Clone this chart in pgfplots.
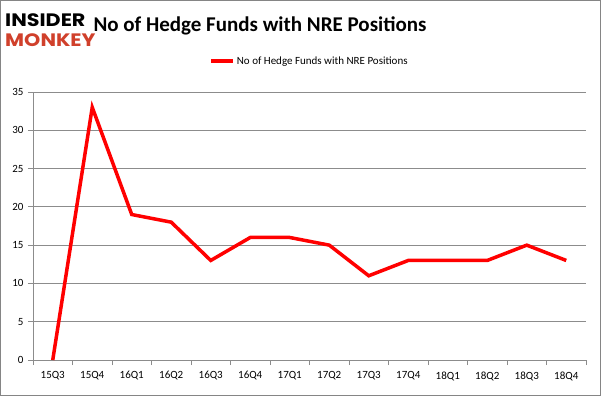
\documentclass[border=0pt]{standalone}
\usepackage{pgfplots}
\pgfplotsset{compat=1.18}
\usepackage{fontspec}
\setmainfont{Carlito}
\newfontfamily\logofont{Poppins}
\definecolor{gridgray}{HTML}{8C8C8C}
\definecolor{framegray}{HTML}{858585}
\definecolor{monkeyred}{HTML}{D0402B}
\begin{document}
\begin{tikzpicture}
\draw[framegray, line width=1pt] (0.5pt,0.5pt) rectangle (600.5pt,395.5pt);
\node[anchor=west, inner sep=0, xscale=1.15, font=\logofont\bfseries\fontsize{18}{18}\selectfont] at (5pt,376pt) {INSIDER};
\node[anchor=west, inner sep=0, xscale=1.15, text=monkeyred, font=\logofont\bfseries\fontsize{18}{18}\selectfont] at (5pt,356pt) {MONKEY};
\node[anchor=center, inner sep=0, font=\bfseries\fontsize{21}{21}\selectfont] at (260pt,370pt) {No of Hedge Funds with NRE Positions};
\begin{axis}[
  at={(33pt,36pt)}, anchor=south west,
  width=553pt, height=268pt, scale only axis,
  xmin=-0.5, xmax=13.5, ymin=0, ymax=35,
  axis lines*=left,
  axis line style={gridgray, line width=0.8pt},
  /pgf/number format/assume math mode=true,
  xtick={-0.5,0.5,...,13.5},
  xticklabels={},
  extra x ticks={0,...,13},
  extra x tick labels={15Q3,15Q4,16Q1,16Q2,16Q3,16Q4,17Q1,17Q2,17Q3,17Q4,18Q1,18Q2,18Q3,18Q4},
  extra x tick style={major tick length=0pt, grid=none},
  ytick={0,5,...,35},
  tick style={gridgray, line width=0.8pt},
  major tick length=5pt,
  tick align=outside,
  ymajorgrids,
  grid style={gridgray, line width=0.8pt},
  tick label style={font=\fontsize{11}{11}\selectfont, text=black},
  xticklabel style={yshift=-8pt},
  yticklabel style={xshift=-1pt},
  legend style={at={(0.5,1)}, yshift=31pt, anchor=center, draw=none, fill=none, font=\fontsize{11}{11}\selectfont, legend cell align=left},
  legend image code/.code={\draw[#1, line width=3.5pt] (0pt,0pt) -- (22pt,0pt);},
  clip=false,
]
\addplot[red, line width=3.5pt, line join=miter] coordinates {
(0,0) (1,33) (2,19) (3,18) (4,13) (5,16) (6,16) (7,15) (8,11) (9,13) (10,13) (11,13) (12,15) (13,13)
};
\addlegendentry{No of Hedge Funds with NRE Positions}
\end{axis}
\end{tikzpicture}
\end{document}
